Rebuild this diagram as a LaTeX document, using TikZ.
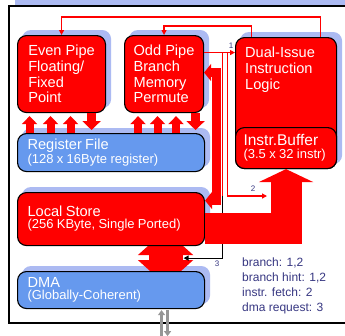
\documentclass[tikz,border=0pt]{standalone}
\usepackage{fontspec}
\setmainfont{Liberation Sans}
\usetikzlibrary{arrows.meta}
\definecolor{boxblue}{RGB}{102,153,238}
\definecolor{shadowblue}{RGB}{172,186,242}
\definecolor{legendblue}{RGB}{55,55,130}
\definecolor{arrowgray}{RGB}{150,150,150}
\pgfdeclarelayer{back}
\pgfsetlayers{back,main}
\newcommand\fbig{\fontsize{14.6}{15.7}\selectfont}
\newcommand\fsmall{\fontsize{13}{14.5}\selectfont}
\begin{document}
\begin{tikzpicture}[x=1pt,y=-1pt,
  box/.style={draw=black, line width=1.1pt, rounded corners=9pt, inner sep=0pt,
    anchor=north west, text=white, align=left},
  redbox/.style={box, fill=red},
  bluebox/.style={box, fill=boxblue},
  wire/.style={draw=red, line width=1.2pt},
  tip/.style={-{Triangle[length=5pt,width=5pt]}},
  fatup/.style={red, line width=8pt, -{Triangle[width=15pt,length=8pt]}},
  fatdown/.style={red, line width=9pt, -{Triangle[width=18pt,length=9pt]}},
  lab/.style={text=legendblue, font=\fontsize{8}{9}\selectfont, inner sep=0pt},
  grayarrow/.style={arrowgray, line width=3pt, -{Triangle[width=7pt,length=5pt]}}
]
\useasboundingbox (0,0) rectangle (345,335);

% boxes
\node[redbox, font=\fbig, minimum width=88pt, minimum height=77pt] (even) at (17,35)
  {Even Pipe\\Floating/\\Fixed\\Point};
\node[redbox, font=\fbig, minimum width=79pt, minimum height=77pt] (odd) at (124,35)
  {Odd Pipe\\Branch\\Memory\\Permute};
\node[bluebox, minimum width=187pt, minimum height=38pt, text width=167pt] (rf) at (17,133)
  {\fbig Register File\\\fsmall (128 x 16Byte register)};
\node[redbox, minimum width=187pt, minimum height=53pt, text width=167pt] (ls) at (17,192)
  {\fbig Local Store\\\fsmall (256 KByte, Single Ported)};
\node[bluebox, minimum width=187pt, minimum height=37pt, text width=167pt] (dma) at (17,271)
  {\fbig DMA\\\fsmall (Globally-Coherent)};
\node[redbox, minimum width=101pt, minimum height=131pt] (dual) at (235,37) {};
\node[redbox, minimum width=101pt, minimum height=41pt, text width=85pt] (ibuf) at (235,127)
  {\fontsize{15.5}{17}\selectfont Instr.Buffer\\[1.2pt]\fsmall (3.5 x 32 instr)};
\node[anchor=north west, inner sep=0pt, text=white, font=\fbig, align=left] (dualtxt)
  at ([xshift=10pt,yshift=-10pt]dual.north west) {Dual-Issue\\Instruction\\Logic};

% legend
\node[anchor=north west, inner sep=0pt, align=left, text=legendblue,
  font=\fontsize{12}{15}\selectfont] (legend) at (242,257.5)
  {branch: 1,2\\branch hint: 1,2\\instr. fetch: 2\\dma request: 3};

% back layer: frame, shadows, LS<->DMA arrow
\coordinate (d1) at ([xshift=54.5pt]ls.south);
\coordinate (d2) at (d1 |- dma.north);
\begin{pgfonlayer}{back}
  \fill[shadowblue] (15,0) rectangle (352,317);
  \draw[line width=1.5pt, fill=white] (9,6) rectangle (348,323);
  \foreach \b in {even,odd,rf,ls,dma,dual}
    \fill[shadowblue, rounded corners=9pt]
      ([xshift=5pt,yshift=5pt]\b.south west) rectangle ([xshift=5pt,yshift=5pt]\b.north east);
  \draw[red, line width=34pt,
    {Triangle[width=54pt,length=25pt]}-{Triangle[width=54pt,length=25pt]}]
    ([yshift=16pt]d1) -- ([yshift=-14pt]d2);
\end{pgfonlayer}

% top feedback wires
\coordinate (da) at ([xshift=34.5pt]dual.north);
\coordinate (db) at ([xshift=-34.5pt]dual.north);
\draw[wire, tip] (da) -- ++(0,-20) -| (even.north);
\draw[wire, tip] (db) -- ++(0,-11) -| (odd.north);

% pipe <-> register file arrows
\foreach \n/\dx in {even/-32, even/-11, even/9, odd/-26, odd/-6.5, odd/12} {
  \coordinate (u) at ([xshift=\dx pt]\n.south);
  \coordinate (v) at (u |- rf.north);
  \draw[fatup] (v) -- ([yshift=-3pt]u);
}
\foreach \n/\dx in {even/30, odd/31.5} {
  \coordinate (u) at ([xshift=\dx pt]\n.south);
  \coordinate (v) at (u |- rf.north);
  \draw[fatdown] (u) -- ([yshift=3pt]v);
}

% branch wire 1 and derived lines 2, 3
\coordinate (p1) at ([yshift=21.5pt]odd.east);
\draw[wire, tip] (p1) -- (p1 -| dual.west);
\node[lab] (l1) at (231,46) {1};
\coordinate (b3) at ([xshift=18.5pt]p1);
\coordinate (b2) at ([xshift=23pt]p1);
\coordinate (e2) at (267,196);
\coordinate (t3) at ([xshift=18pt,yshift=-12pt]d1);
\draw[wire] (b3) -- (b3 |- e2);
\draw[black, line width=1.2pt, tip] (b3 |- e2) |- (t3);
\draw[wire, tip] (b2) |- (e2);
\node[lab] (l2) at (253,189) {2};
\node[lab] (l3) at (217,264) {3};

% local store <-> odd pipe thick bar
\coordinate (ta) at ([yshift=1.5pt]odd.east);
\coordinate (tb) at ([yshift=18.5pt]ls.east);
\draw[red, line width=9pt, line join=miter,
  {Triangle[width=17pt,length=7pt]}-{Triangle[width=17pt,length=7pt]}]
  (ta) -- ++(12,0) |- (tb);

% local store -> instruction buffer
\coordinate (la) at ([yshift=-9.5pt]ls.east);
\draw[red, line width=31pt, line join=miter, -{Triangle[width=54pt,length=13pt]}]
  (la) -| (ibuf.south);

% DMA external arrows
\coordinate (g) at ([xshift=53.5pt]dma.south);
\draw[grayarrow] ([xshift=-3pt,yshift=-27pt]g) -- ([xshift=-3pt,yshift=-1pt]g);
\draw[grayarrow] ([xshift=3pt,yshift=-1pt]g) -- ([xshift=3pt,yshift=-27pt]g);
\end{tikzpicture}
\end{document}
